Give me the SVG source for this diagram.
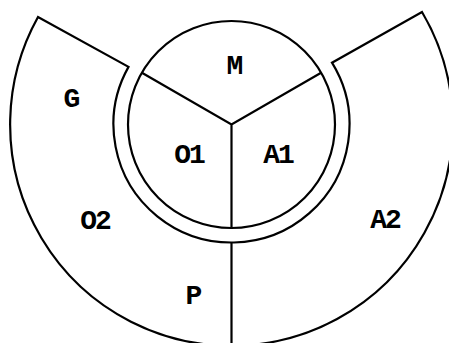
<svg xmlns="http://www.w3.org/2000/svg" width="449" height="343" viewBox="0 0 449 343">
<style>
.ln{fill:none;stroke:#000;stroke-width:2.2;stroke-linejoin:miter}
.t{font-family:"Liberation Mono","Courier New",monospace;font-weight:bold;font-size:28px;letter-spacing:-2px;fill:#000;text-anchor:middle}
</style>
<rect width="449" height="343" fill="#fff"/>
<g id="connectors">
<path class="ln" d="M 38 17 A 221.3 221.3 0 1 0 422 12 L 332 62.7 A 118 118 0 1 1 128.5 66.9 Z"/>
<circle class="ln" cx="231.5" cy="124.5" r="103.5"/>
<path class="ln" d="M 141.9 72.75 L 231.5 124.5 L 321.1 72.75 M 231.5 124.5 V 228 M 231.5 242.5 V 343"/>
</g>
<g id="M"><text class="t" x="234" y="74">M</text></g>
<g id="G"><text class="t" x="71" y="107">G</text></g>
<g id="O1"><text class="t" x="189" y="163">O1</text></g>
<g id="A1"><text class="t" x="278" y="163">A1</text></g>
<g id="O2"><text class="t" x="95" y="229">O2</text></g>
<g id="A2"><text class="t" x="385" y="228">A2</text></g>
<g id="P"><text class="t" x="193" y="304">P</text></g>
</svg>
